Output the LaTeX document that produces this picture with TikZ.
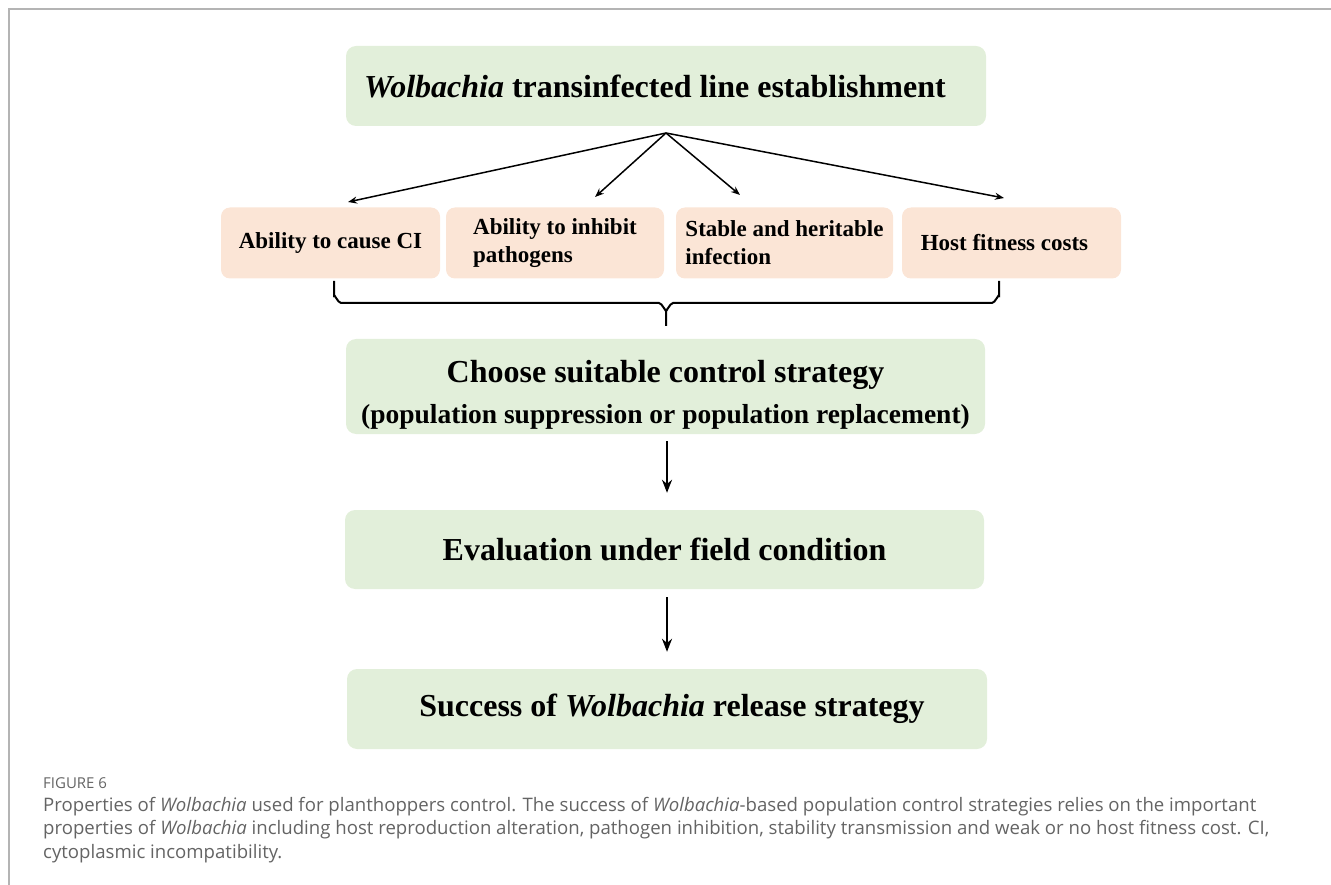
\documentclass[tikz,border=0pt]{standalone}
\usepackage{fontspec}
\setmainfont{Liberation Serif}
\newfontfamily\capfont{Open Sans}
\usetikzlibrary{arrows.meta}
\definecolor{boxgreen}{HTML}{E2EFDA}
\definecolor{boxpeach}{HTML}{FBE5D6}
\definecolor{frameg}{HTML}{B4B4B4}
\definecolor{capg}{HTML}{646464}
\begin{document}
\begin{tikzpicture}[x=1pt, y=-1pt,
    stage/.style={fill=boxgreen, rounded corners=10pt, minimum width=640pt, minimum height=80pt, font=\fontsize{32}{38}\selectfont\bfseries, align=center, inner sep=0pt},
    prop/.style={fill=boxpeach, rounded corners=9pt, minimum height=71pt, font=\fontsize{23}{28}\selectfont\bfseries, align=left, inner sep=0pt},
    fan/.style={line width=1.5pt, -{Stealth[length=9pt, width=7pt]}},
    down/.style={line width=2.6pt, -{Stealth[length=13pt, width=10pt]}}]
\useasboundingbox (0,0) rectangle (1331,885);
\draw[frameg, line width=2pt] (1331,9) -- (9,9) -- (9,885);
\node[stage] (line) at (666,86) {\textit{Wolbachia} transinfected line establishment\hspace*{22pt}};
\node[prop, minimum width=219pt] (ci) at (330.5,243) {Ability to cause CI};
\node[prop, minimum width=218pt] (inhibit) at (555,243) {Ability to inhibit\\pathogens};
\node[prop, minimum width=217pt] (stable) at (784.5,243) {Stable and heritable\\infection};
\node[prop, minimum width=219pt] (cost) at (1011.5,243) {Host fitness costs\hspace*{14pt}};
\node[stage, minimum width=639pt, minimum height=95pt, font=\bfseries] (choose) at (665.5,386.5) {\fontsize{32}{38}\selectfont\rule{0pt}{39pt}Choose suitable control strategy\\[14pt]\fontsize{27.5}{33}\selectfont(population suppression or population replacement)};
\node[stage, minimum width=639pt, minimum height=79pt] (field) at (664.5,549.5) {Evaluation under field condition};
\node[stage] (success) at (667,709) {\hspace*{10pt}Success of \textit{Wolbachia} release strategy};
\coordinate (apex) at (666,133);
\coordinate (t1) at (348,202);
\coordinate (t2) at (595,197);
\coordinate (t3) at (740,195);
\coordinate (t4) at (1004,198);
\foreach \t in {t1,t2,t3,t4}
  \draw[fan] (apex) -- (\t);
\draw[line width=2pt] (334,281) -- (334,296) to[out=90, in=180, looseness=0.8] (341,303) -- (659,303) to[out=0, in=-90, looseness=0.8] (666,310) -- (666,326);
\draw[line width=2pt] (999,281) -- (999,296) to[out=90, in=0, looseness=0.8] (992,303) -- (673,303) to[out=180, in=-90, looseness=0.8] (666,310);
\draw[down, shorten <=7pt, shorten >=17pt] (choose.south -| success.north) -- (field.north -| success.north);
\draw[down, shorten <=8pt, shorten >=17pt] (field.south -| success.north) -- (success.north);
\node[anchor=base west, inner sep=0pt, text=capg, font=\capfont\fontsize{15}{18}\selectfont] (figno) at (43,788) {FIGURE 6};
\node[anchor=base west, inner sep=0pt, text=capg, align=left, font=\capfont\fontsize{18.6}{23.2}\selectfont] (caption) at (43,858) {Properties of \textit{Wolbachia} used for planthoppers control. The success of \textit{Wolbachia}-based population control strategies relies on the important\\properties of \textit{Wolbachia} including host reproduction alteration, pathogen inhibition, stability transmission and weak or no host fitness cost. CI,\\cytoplasmic incompatibility.};
\end{tikzpicture}
\end{document}
